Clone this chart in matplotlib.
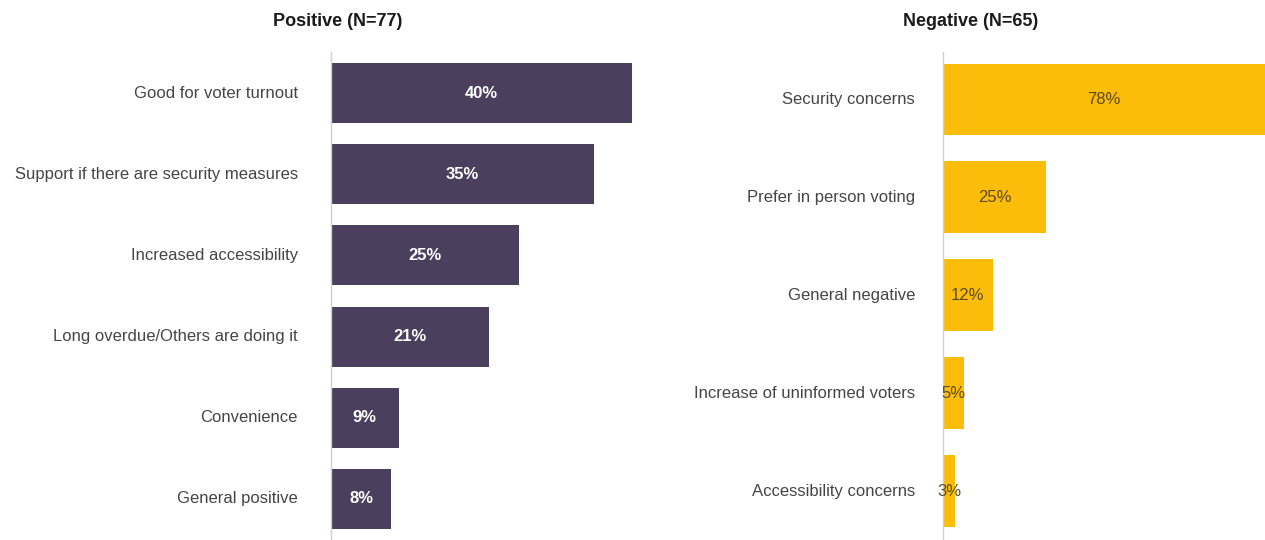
import matplotlib
matplotlib.use("Agg")
import matplotlib.pyplot as plt

plt.rcParams['font.family'] = ['Liberation Sans', 'DejaVu Sans']

# Positive responses (N=77)
pos_labels = ["Good for voter turnout", "Support if there are security measures",
              "Increased accessibility", "Long overdue/Others are doing it",
              "Convenience", "General positive"]
pos_values = [40, 35, 25, 21, 9, 8]

# Negative responses (N=65)
neg_labels = ["Security concerns", "Prefer in person voting", "General negative",
              "Increase of uninformed voters", "Accessibility concerns"]
neg_values = [78, 25, 12, 5, 3]

purple = "#4b3f5e"
yellow = "#fcbd0a"
label_color = "#454545"

W, H = 1265, 540
fig = plt.figure(figsize=(W / 100, H / 100), dpi=100)


def panel(left_px, right_px, labels, values, color, text_color, weight, xmax, ylim, height,
          pad, title, title_x):
    ax = fig.add_axes([left_px / W, 0, (right_px - left_px) / W, 1 - 52 / H])
    pos = list(range(len(values)))
    bars = ax.barh(pos, values, height=height, color=color)
    ax.set_xlim(0, xmax)
    ax.set_ylim(*ylim)
    ax.set_yticks(pos)
    ax.set_yticklabels(labels, fontsize=12, color=label_color, va='bottom')
    for t in ax.get_yticklabels():
        t.set_verticalalignment('center')
    ax.tick_params(axis='y', length=0, pad=pad)
    ax.set_xticks([])
    for s in ['top', 'right', 'bottom']:
        ax.spines[s].set_visible(False)
    ax.spines['left'].set_color("#d0d0d0")
    ax.spines['left'].set_linewidth(1)
    for b, v in zip(bars, values):
        ax.text(b.get_width() / 2, b.get_y() + b.get_height() / 2, f"{v}%",
                ha='center', va='center', fontsize=12, color=text_color, fontweight=weight)
    fig.text(title_x / W, 1 - 22 / H, title, ha='center', va='center',
             fontsize=13, fontweight='bold', color="#1a1a1a")
    return ax


panel(331, 632, pos_labels, pos_values, purple, "white", "bold", 40,
      (5.505, -0.505), 0.74, 24, "Positive (N=77)", 338)
panel(943, 1265, neg_labels, neg_values, yellow, "#5a4a22", "normal", 78,
      (4.5, -0.485), 0.735, 20, "Negative (N=65)", 971)

fig.savefig("out.png", dpi=100, facecolor="white")
